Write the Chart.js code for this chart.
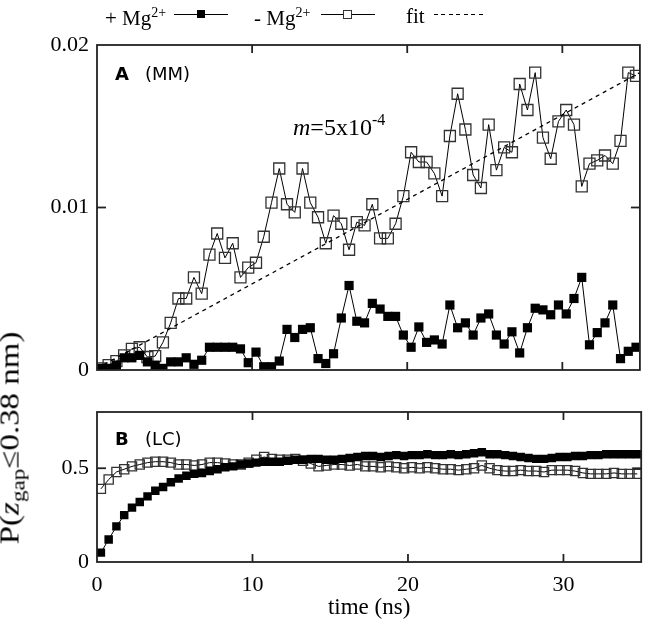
<!DOCTYPE html>
<html>
<head>
<meta charset="utf-8">
<script src="https://cdn.jsdelivr.net/npm/chart.js@4.4.0/dist/chart.umd.min.js"></script>
<style>
  body { margin: 0; background: #fff; }
  #page { position: relative; width: 649px; height: 634px; overflow: hidden; font-family: "Liberation Serif", serif; color: #000; }
  .box { position: absolute; left: 0; width: 649px; }
  #boxA { top: 0; height: 380px; }
  #boxB { top: 380px; height: 254px; }
  .txt { position: absolute; white-space: nowrap; line-height: 1; }
  .leg { font-size: 21px; top: 6px; }
  .leg sup { font-size: 14px; vertical-align: 8px; }
  .sample { position: absolute; height: 0; border-top: 1px solid #000; top: 14px; }
  .mark { position: absolute; box-sizing: border-box; }
  .panel { font-family: "DejaVu Sans", sans-serif; font-size: 18px; }
  #ytitle { font-size: 27px; left: 12px; top: 438px; transform: translate(-50%, -50%) rotate(-90deg) scaleX(1.22); }
  #ytitle sub { font-size: 19px; vertical-align: -6px; }
</style>
</head>
<body>
<div id="page">
  <div class="box" id="boxA"><canvas id="chartA"></canvas></div>
  <div class="box" id="boxB"><canvas id="chartB"></canvas></div>

  <!-- legend -->
  <div class="txt leg" style="left:105px">+ Mg<sup>2+</sup></div>
  <div class="sample" style="left:174px;width:54px"></div>
  <div class="mark" style="left:197px;top:10px;width:8px;height:8px;background:#000"></div>
  <div class="txt leg" style="left:254px">- Mg<sup>2+</sup></div>
  <div class="sample" style="left:321px;width:54px"></div>
  <div class="mark" style="left:343px;top:10px;width:9px;height:9px;background:#fff;border:1px solid #333"></div>
  <div class="txt leg" style="left:406px">fit</div>
  <div class="mark" style="left:434px;top:14px;width:52px;height:1px;background:repeating-linear-gradient(to right,#000 0 4px,transparent 4px 7.5px)"></div>

  <!-- panel labels -->
  <div class="txt panel" style="left:115px;top:65px"><b>A</b></div>
  <div class="txt panel" style="left:145px;top:65px">(MM)</div>
  <div class="txt panel" style="left:115px;top:430px"><b>B</b></div>
  <div class="txt panel" style="left:145px;top:430px">(LC)</div>
  <div class="txt" style="left:293px;top:112px;font-size:24px"><i>m</i>=5x10<sup style="font-size:16px;vertical-align:10px">-4</sup></div>

  <div class="txt" id="ytitle">P(<i>z</i><sub>gap</sub>≤0.38 nm)</div>
</div>

<script>
// sample times (ns)
const times = [
  0.25, 0.75, 1.25, 1.75, 2.25, 2.75, 3.25, 3.75, 4.25, 4.75,
  5.25, 5.75, 6.25, 6.75, 7.25, 7.75, 8.25, 8.75, 9.25, 9.75,
  10.25, 10.75, 11.25, 11.75, 12.25, 12.75, 13.25, 13.75, 14.25, 14.75,
  15.25, 15.75, 16.25, 16.75, 17.25, 17.75, 18.25, 18.75, 19.25, 19.75,
  20.25, 20.75, 21.25, 21.75, 22.25, 22.75, 23.25, 23.75, 24.25, 24.75,
  25.25, 25.75, 26.25, 26.75, 27.25, 27.75, 28.25, 28.75, 29.25, 29.75,
  30.25, 30.75, 31.25, 31.75, 32.25, 32.75, 33.25, 33.75, 34.25, 34.75
];

// panel A (MM)
const mmWithMg = [
  0.0001, 0.0001, 0.0003, 0.00075, 0.00075, 0.0009, 0.0005, 0.0003, 0.0001, 0.0005,
  0.0005, 0.00075, 0.00035, 0.0006, 0.0014, 0.0014, 0.0014, 0.0014, 0.0013, 0.00045,
  0.0011, 0.0002, 0.0002, 0.00055, 0.0025, 0.0020, 0.0025, 0.0026, 0.0007, 0.0004,
  0.0010, 0.0032, 0.0052, 0.0030, 0.0029, 0.0041, 0.00375, 0.0033, 0.0033, 0.00215,
  0.0014, 0.00265, 0.0017, 0.00185, 0.0016, 0.0040, 0.0026, 0.0029, 0.00215, 0.0032,
  0.00345, 0.00215, 0.0016, 0.00235, 0.00105, 0.0026, 0.0038, 0.0037, 0.0034, 0.0040,
  0.00345, 0.0044, 0.0057, 0.00155, 0.0023, 0.0029, 0.0040, 0.0007, 0.00115, 0.0014
];
const mmNoMg = [
  0.0001, 0.0003, 0.00055, 0.0009, 0.0013, 0.0014, 0.0008, 0.00085, 0.0017, 0.0029,
  0.0044, 0.0044, 0.0057, 0.0047, 0.0071, 0.0084, 0.0069, 0.0078, 0.0057, 0.0063,
  0.0066, 0.0082, 0.0103, 0.0124, 0.0102, 0.0097, 0.0124, 0.0103, 0.0094, 0.0078,
  0.0095, 0.0090, 0.0074, 0.0091, 0.0089, 0.0102, 0.0081, 0.0081, 0.0090, 0.0107,
  0.0134, 0.0128, 0.0128, 0.0121, 0.0107, 0.0144, 0.0170, 0.0148, 0.0120, 0.0112,
  0.0151, 0.0123, 0.0137, 0.0134, 0.0176, 0.0160, 0.0183, 0.0143, 0.0130, 0.0153,
  0.0160, 0.0151, 0.0113, 0.0127, 0.0129, 0.0132, 0.0127, 0.0141, 0.0183, 0.0181
];
const fitX = [0, 35];
const fitY = [0.0001, 0.0183];

// panel B (LC)
const lcWithMg = [
  0.05, 0.12, 0.19, 0.25, 0.29, 0.32, 0.35, 0.38, 0.40, 0.425,
  0.445, 0.46, 0.47, 0.475, 0.485, 0.495, 0.505, 0.51, 0.52, 0.525,
  0.53, 0.535, 0.535, 0.535, 0.54, 0.545, 0.545, 0.55, 0.55, 0.545,
  0.545, 0.55, 0.555, 0.56, 0.565, 0.565, 0.56, 0.565, 0.57, 0.565,
  0.57, 0.57, 0.575, 0.57, 0.57, 0.575, 0.57, 0.575, 0.58, 0.585,
  0.575, 0.575, 0.57, 0.565, 0.56, 0.555, 0.55, 0.55, 0.555, 0.56,
  0.56, 0.565, 0.565, 0.57, 0.57, 0.575, 0.575, 0.575, 0.575, 0.575
];
const lcNoMg = [
  0.39, 0.44, 0.48, 0.495, 0.51, 0.52, 0.53, 0.535, 0.535, 0.53,
  0.52, 0.52, 0.515, 0.52, 0.53, 0.53, 0.525, 0.52, 0.52, 0.53,
  0.545, 0.56, 0.55, 0.545, 0.545, 0.55, 0.54, 0.525, 0.51, 0.515,
  0.52, 0.52, 0.515, 0.52, 0.51, 0.51, 0.505, 0.51, 0.505, 0.50,
  0.505, 0.50, 0.505, 0.50, 0.495, 0.495, 0.49, 0.495, 0.50, 0.515,
  0.50, 0.49, 0.485, 0.485, 0.49, 0.485, 0.485, 0.48, 0.49, 0.49,
  0.49, 0.485, 0.475, 0.47, 0.47, 0.47, 0.475, 0.47, 0.47, 0.47
];

// ticks
const xTicks = [0, 10, 20, 30];
const yTicksA = [0, 0.01, 0.02];
const yTicksB = [0, 0.5];

const pairs = (xs, ys) => xs.map((x, i) => ({ x, y: ys[i] }));
const tickFont = { family: 'Liberation Serif', size: 22 };

// stop tick labels from pushing the plot area around
const noOverflow = s => { s.paddingTop = 0; s.paddingBottom = 0; s.paddingLeft = 0; s.paddingRight = 0; };

// gnuplot-like frame with inward tick marks
const framePlugin = {
  id: 'frame',
  afterDatasetsDraw(chart, args, opts) {
    const { ctx, chartArea: a, scales } = chart;
    const seg = (x1, y1, x2, y2) => { ctx.beginPath(); ctx.moveTo(x1, y1); ctx.lineTo(x2, y2); ctx.stroke(); };
    ctx.save();
    ctx.strokeStyle = '#222';
    ctx.lineWidth = 1.8;
    ctx.strokeRect(a.left, a.top, a.right - a.left, a.bottom - a.top);
    opts.xTicks.forEach(v => {
      const x = scales.x.getPixelForValue(v);
      if (x <= a.left + 1 || x >= a.right - 1) return;
      seg(x, a.top, x, a.top + 8);
      seg(x, a.bottom, x, a.bottom - 8);
    });
    opts.yTicks.forEach(v => {
      const y = scales.y.getPixelForValue(v);
      if (y <= a.top + 1 || y >= a.bottom - 1) return;
      seg(a.left, y, a.left + 9, y);
      seg(a.right, y, a.right - 9, y);
    });
    ctx.restore();
  }
};

const yAxis = (min, max, ticks) => ({
  type: 'linear', min, max,
  grid: { display: false, drawTicks: false },
  border: { display: false },
  afterBuildTicks: s => { s.ticks = ticks.map(v => ({ value: v })); },
  afterFit: s => { s.width = 97; noOverflow(s); },
  ticks: { padding: 8, color: '#000', font: tickFont, callback: v => String(v) }
});

const filledSet = (data, r) => ({
  data, borderColor: '#000', borderWidth: 1,
  pointStyle: 'rect', pointRadius: r, pointBackgroundColor: '#000', pointBorderColor: '#000', pointBorderWidth: 0
});
const openSet = (data, r) => ({
  data, borderColor: '#000', borderWidth: 1,
  pointStyle: 'rect', pointRadius: r, pointBackgroundColor: 'rgba(0,0,0,0)', pointBorderColor: '#333', pointBorderWidth: 1.3
});

new Chart(document.getElementById('chartA'), {
  type: 'line',
  data: {
    datasets: [
      filledSet(pairs(times, mmWithMg), 6.5),
      { data: pairs(fitX, fitY), borderColor: '#000', borderWidth: 1.3, borderDash: [4, 4], pointRadius: 0 },
      openSet(pairs(times, mmNoMg), 7.8)
    ]
  },
  options: {
    responsive: true, maintainAspectRatio: false, animation: false,
    layout: { padding: { top: 45, right: 3, bottom: 10, left: 0 } },
    plugins: { legend: { display: false }, tooltip: { enabled: false }, frame: { xTicks, yTicks: yTicksA } },
    scales: {
      x: { type: 'linear', min: 0, max: 35, display: false },
      y: yAxis(0, 0.02, yTicksA)
    }
  },
  plugins: [framePlugin]
});

new Chart(document.getElementById('chartB'), {
  type: 'line',
  data: {
    datasets: [
      filledSet(pairs(times, lcWithMg), 6),
      openSet(pairs(times, lcNoMg), 6.5)
    ]
  },
  options: {
    responsive: true, maintainAspectRatio: false, animation: false,
    layout: { padding: { top: 32, right: 3, bottom: 0, left: 0 } },
    plugins: { legend: { display: false }, tooltip: { enabled: false }, frame: { xTicks, yTicks: yTicksB } },
    scales: {
      x: {
        type: 'linear', min: 0, max: 35,
        grid: { display: false, drawTicks: false },
        border: { display: false },
        afterBuildTicks: s => { s.ticks = xTicks.map(v => ({ value: v })); },
        afterFit: s => { s.height = 72; noOverflow(s); },
        ticks: { padding: 10, color: '#000', font: tickFont, maxRotation: 0 },
        title: { display: true, text: 'time (ns)', color: '#000', font: { family: 'Liberation Serif', size: 23 }, padding: { top: 0, bottom: 12 } }
      },
      y: yAxis(0, 0.8, yTicksB)
    }
  },
  plugins: [framePlugin]
});
</script>
</body>
</html>
